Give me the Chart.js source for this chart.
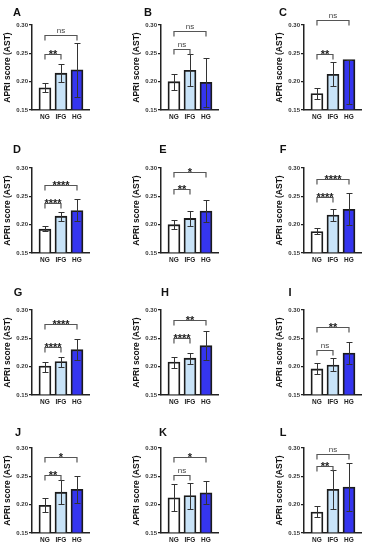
<!DOCTYPE html>
<html>
<head>
<meta charset="utf-8">
<script src="https://cdn.jsdelivr.net/npm/chart.js@4.4.1/dist/chart.umd.min.js"></script>
<style>
  body { margin: 0; background: #fff; }
  #wrap { position: relative; width: 365px; height: 550px; overflow: hidden; }
  #wrap canvas { position: absolute; }
  .letter {
    position: absolute;
    font-family: "Liberation Sans", Arial, sans-serif;
    font-weight: bold;
    font-size: 11px;
    line-height: 11px;
    color: #111;
    transform: translate(-50%, -50%);
  }
</style>
</head>
<body>
<div id="wrap"></div>
<script>
// panels and groups
const panels = ["A", "B", "C", "D", "E", "F", "G", "H", "I", "J", "K", "L"];
const groups = ["NG", "IFG", "HG"];
const yTicks = [0.15, 0.20, 0.25, 0.30];

// bar heights (mean) per panel: NG, IFG, HG
const means = [
  [0.189, 0.215, 0.221], // A
  [0.200, 0.220, 0.199], // B
  [0.179, 0.213, 0.239], // C
  [0.192, 0.215, 0.225], // D
  [0.200, 0.211, 0.224], // E
  [0.188, 0.217, 0.227], // F
  [0.201, 0.209, 0.230], // G
  [0.208, 0.215, 0.237], // H
  [0.196, 0.203, 0.224], // I
  [0.199, 0.222, 0.227], // J
  [0.212, 0.216, 0.221], // K
  [0.187, 0.227, 0.231]  // L
];

// error bar ends
const errLow = [
  [0.181, 0.199, 0.173],
  [0.186, 0.192, 0.156],
  [0.170, 0.193, 0.160],
  [0.188, 0.207, 0.207],
  [0.192, 0.198, 0.205],
  [0.183, 0.207, 0.200],
  [0.191, 0.200, 0.212],
  [0.198, 0.205, 0.212],
  [0.187, 0.192, 0.204],
  [0.187, 0.202, 0.203],
  [0.188, 0.193, 0.201],
  [0.178, 0.193, 0.189]
];
const errHigh = [
  [0.198, 0.232, 0.268],
  [0.214, 0.248, 0.241],
  [0.189, 0.234, 0.239],
  [0.197, 0.223, 0.245],
  [0.208, 0.224, 0.243],
  [0.194, 0.228, 0.255],
  [0.209, 0.217, 0.248],
  [0.217, 0.224, 0.263],
  [0.206, 0.215, 0.244],
  [0.212, 0.244, 0.251],
  [0.236, 0.239, 0.241],
  [0.197, 0.262, 0.273]
];

// significance: NG vs IFG (near) and NG vs HG (far)
const sigNear = ["**", "ns", "**", "****", "**", "****", "****", "****", "ns", "**", "ns", "**"];
const sigFar = ["ns", "ns", "ns", "****", "*", "****", "****", "**", "**", "*", "*", "ns"];
const nearLevel = [0.249, 0.257, 0.248, 0.2375, 0.263, 0.2486, 0.235, 0.251, 0.230, 0.253, 0.253, 0.2677];
const farLevel = [0.282, 0.289, 0.3095, 0.270, 0.293, 0.281, 0.2745, 0.282, 0.270, 0.2835, 0.284, 0.2894];

const barFill = ["#ffffff", "#c8e3f8", "#3535ef"];
const FONT = "'Liberation Sans', Arial, sans-serif";

// layout of the grid
const colAxisX = [32, 161, 304];
const rowTopY = [25, 168, 310, 448];
const letterPos = [
  [17, 12], [148, 12], [283, 12],
  [17, 149], [163, 149], [283, 149],
  [18, 292], [165, 292], [290, 292],
  [18, 432], [163, 432], [283, 432]
];

function drawBracket(ctx, x, y, toIdx, level, label) {
  const x0 = x.getPixelForValue(1);
  const x1 = x.getPixelForValue(toIdx);
  const yy = Math.round(y.getPixelForValue(level)) + 0.5;
  ctx.strokeStyle = "#555";
  ctx.lineWidth = 1.2;
  ctx.beginPath();
  ctx.moveTo(x0, yy + 5);
  ctx.lineTo(x0, yy);
  ctx.lineTo(x1, yy);
  ctx.lineTo(x1, yy + 5);
  ctx.stroke();

  ctx.textAlign = "center";
  ctx.textBaseline = "alphabetic";
  if (label === "ns") {
    ctx.font = "8px " + FONT;
    ctx.fillStyle = "#444";
    ctx.fillText(label, (x0 + x1) / 2, yy - 3);
  } else {
    ctx.font = "bold 11px " + FONT;
    ctx.fillStyle = "#222";
    ctx.fillText(label, (x0 + x1) / 2, yy + 3);
  }
}

function decor(i) {
  return {
    id: "decor" + i,
    afterDatasetsDraw(chart) {
      const { ctx, scales: { x, y } } = chart;
      ctx.save();

      // error bars
      ctx.strokeStyle = "#333";
      ctx.lineWidth = 1;
      groups.forEach((g, j) => {
        const px = Math.round(x.getPixelForValue(j + 1)) + 0.5;
        const lo = Math.round(y.getPixelForValue(errLow[i][j])) + 0.5;
        const hi = Math.round(y.getPixelForValue(errHigh[i][j])) + 0.5;
        ctx.beginPath();
        ctx.moveTo(px, lo);
        ctx.lineTo(px, hi);
        ctx.moveTo(px - 3, lo);
        ctx.lineTo(px + 3, lo);
        ctx.moveTo(px - 3, hi);
        ctx.lineTo(px + 3, hi);
        ctx.stroke();
      });

      drawBracket(ctx, x, y, 2, nearLevel[i], sigNear[i]);
      drawBracket(ctx, x, y, 3, farLevel[i], sigFar[i]);
      ctx.restore();
    }
  };
}

const wrap = document.getElementById("wrap");

panels.forEach((name, i) => {
  const col = i % 3;
  const row = Math.floor(i / 3);

  const canvas = document.createElement("canvas");
  canvas.width = 92;
  canvas.height = 125;
  canvas.style.left = (colAxisX[col] - 32) + "px";
  canvas.style.top = (rowTopY[row] - 24) + "px";
  wrap.appendChild(canvas);

  const letter = document.createElement("div");
  letter.className = "letter";
  letter.textContent = name;
  letter.style.left = letterPos[i][0] + "px";
  letter.style.top = letterPos[i][1] + "px";
  wrap.appendChild(letter);

  new Chart(canvas, {
    type: "bar",
    data: {
      datasets: [{
        data: groups.map((g, j) => ({ x: j + 1, y: means[i][j] })),
        backgroundColor: barFill,
        borderColor: "#1b1b1b",
        borderWidth: 1.8,
        borderSkipped: "start",
        barThickness: 12,
        base: 0.15
      }]
    },
    options: {
      responsive: false,
      animation: false,
      devicePixelRatio: 1,
      layout: { padding: { top: 24, right: 3, left: 0, bottom: 0 } },
      plugins: {
        legend: { display: false },
        tooltip: { enabled: false }
      },
      scales: {
        x: {
          type: "linear",
          min: 0.19,
          max: 3.75,
          offset: false,
          grid: { display: false, drawTicks: false, tickLength: 0, offset: false },
          border: { display: true, color: "#222", width: 1.5 },
          afterBuildTicks: s => { s.ticks = groups.map((g, j) => ({ value: j + 1 })); },
          afterFit: s => { s.height = 16; },
          ticks: {
            autoSkip: false,
            maxRotation: 0,
            padding: 3,
            color: "#222",
            font: { family: FONT, size: 6.5, weight: "bold" },
            callback: (v, j) => groups[j]
          }
        },
        y: {
          min: 0.15,
          max: 0.30,
          afterBuildTicks: s => { s.ticks = yTicks.map(v => ({ value: v })); },
          afterFit: s => { s.width = 32; },
          grid: { display: true, drawOnChartArea: false, drawTicks: true, tickLength: 3, color: "#222", lineWidth: 1.2 },
          border: { display: true, color: "#222", width: 1.5 },
          ticks: {
            padding: 1,
            color: "#333",
            font: { family: FONT, size: 6, weight: "bold" },
            callback: v => v.toFixed(2)
          },
          title: {
            display: true,
            text: "APRI score (AST)",
            color: "#111",
            font: { family: FONT, size: 8.5, weight: "bold" },
            padding: { top: 3, bottom: 0 }
          }
        }
      }
    },
    plugins: [decor(i)]
  });
});
</script>
</body>
</html>
